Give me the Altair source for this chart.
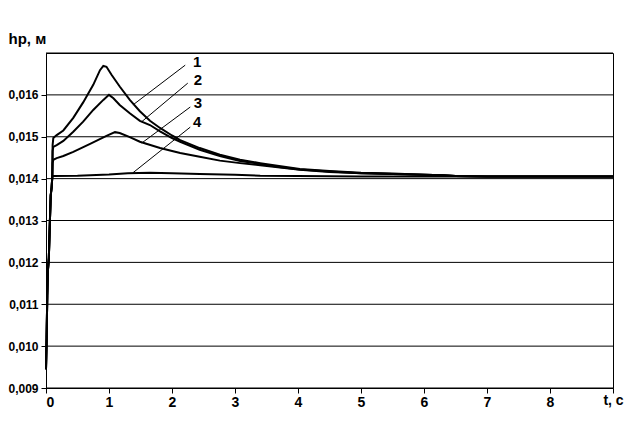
import altair as alt
import pandas as pd

# common initial rise (all curves)
t_rise = [0.0, 0.01, 0.02, 0.03, 0.045, 0.06, 0.075, 0.09, 0.1]
v_rise = [0.00945, 0.0102, 0.0112, 0.0118, 0.0121, 0.0129, 0.0136, 0.0138, 0.01405]

t1 = [0.105, 0.116, 0.17, 0.275, 0.433, 0.59, 0.75, 0.857, 0.91, 0.96, 1.04, 1.17, 1.33, 1.49, 1.65, 1.81,
      2.0, 2.13, 2.44, 2.76, 3.08, 3.4, 3.7, 4.03, 4.5, 5.0, 5.5, 6.0, 6.3, 6.5, 7.0, 8.0, 9.0]
v1 = [0.01480, 0.01497, 0.01504, 0.01515, 0.01545, 0.01582, 0.01624, 0.01659, 0.01669, 0.01667, 0.01648, 0.01620,
      0.01588, 0.01561, 0.01538, 0.01521, 0.01503, 0.01492, 0.01473, 0.01457, 0.01445, 0.01437, 0.01430,
      0.01423, 0.01418, 0.01414, 0.01412, 0.01409, 0.01408, 0.01406, 0.01405, 0.01405, 0.01405]

t2 = [0.105, 0.116, 0.17, 0.275, 0.433, 0.59, 0.75, 0.91, 1.0, 1.07, 1.17, 1.33, 1.49, 1.65, 1.81,
      2.0, 2.13, 2.44, 2.76, 3.08, 3.4, 3.7, 4.03, 4.5, 5.0, 5.5, 6.0, 6.3, 6.5, 7.0, 8.0, 9.0]
v2 = [0.01466, 0.01476, 0.01480, 0.01490, 0.01512, 0.01536, 0.01564, 0.01588, 0.01600, 0.01592, 0.01576, 0.01556,
      0.01538, 0.01528, 0.01513, 0.01497, 0.01488, 0.01469, 0.01454, 0.01442, 0.01435, 0.01428, 0.01422,
      0.01417, 0.01413, 0.01411, 0.01409, 0.01408, 0.01406, 0.01405, 0.01405, 0.01405]

t3 = [0.105, 0.116, 0.17, 0.275, 0.433, 0.70, 0.96, 1.095, 1.17, 1.33, 1.49, 1.81, 2.13, 2.44, 2.76,
      3.08, 3.4, 4.03, 4.5, 5.0, 5.5, 6.0, 6.3, 6.5, 7.0, 8.0, 9.0]
v3 = [0.01437, 0.01445, 0.01449, 0.01454, 0.01464, 0.01483, 0.01502, 0.01511, 0.01509, 0.01499, 0.01488, 0.01473,
      0.01461, 0.01452, 0.01443, 0.01437, 0.01432, 0.01421, 0.01416, 0.01413, 0.01411, 0.01409, 0.01408,
      0.01406, 0.01405, 0.01405, 0.01405]

t4 = [0.116, 0.5, 1.0, 1.3, 1.65, 2.0, 2.44, 3.0, 3.4, 4.0, 5.0, 7.0, 9.0]
v4 = [0.01406, 0.01407, 0.01410, 0.01413, 0.01414, 0.01413, 0.01411, 0.01409, 0.01407, 0.01406,
      0.01405, 0.01405, 0.01405]

series_names = ["1", "2", "3", "4"]
leader_t_start = [1.38, 1.52, 1.52, 1.38]
leader_v_start = [0.01576, 0.01536, 0.01485, 0.01414]
leader_t_end = [2.21, 2.25, 2.29, 2.29]
leader_v_end = [0.01671, 0.01628, 0.01571, 0.01523]
label_t = [2.40, 2.41, 2.41, 2.40]
label_v = [0.01678, 0.01636, 0.01581, 0.01535]

y_ticks = [0.009, 0.010, 0.011, 0.012, 0.013, 0.014, 0.015, 0.016]
y_grid = [0.009, 0.010, 0.011, 0.012, 0.013, 0.014, 0.015, 0.016, 0.017]
x_ticks = [0, 1, 2, 3, 4, 5, 6, 7, 8, 9]

rows = []
for name, ts, vs in zip(series_names, [t1, t2, t3, t4], [v1, v2, v3, v4]):
    allt = t_rise + ts
    allv = v_rise + vs
    for i, (t, v) in enumerate(zip(allt, allv)):
        rows.append({"series": name, "i": i, "t": t, "v": v})
df = pd.DataFrame(rows)

lead = pd.DataFrame({"series": series_names, "t": leader_t_start, "v": leader_v_start,
                     "t2": leader_t_end, "v2": leader_v_end})
labs = pd.DataFrame({"series": series_names, "t": label_t, "v": label_v})

FONT = "Liberation Sans"

xscale = alt.Scale(domain=[0, 9], nice=False, zero=False)
yscale = alt.Scale(domain=[0.009, 0.017], nice=False, zero=False)

xaxis = alt.Axis(values=x_ticks, grid=False, labelExpr="datum.value < 9 ? datum.value : ''",
                 tickSize=5, tickColor="black", domainColor="black", labelColor="black",
                 labelFont=FONT, labelFontWeight="bold", labelFontSize=14, labelPadding=2,
                 title="t, с", titleFont=FONT, titleFontWeight="bold", titleFontSize=14,
                 titleColor="black", titleX=567, titleY=12, titleAlign="center",
                 titleBaseline="middle", titleAngle=0)
yaxis = alt.Axis(values=y_ticks, grid=False,
                 labelExpr="replace(format(datum.value, '.3f'), '.', ',')",
                 tickSize=5, tickColor="black", domainColor="black", labelColor="black",
                 labelFont=FONT, labelFontWeight="bold", labelFontSize=12, labelPadding=3,
                 title="hр, м", titleFont=FONT, titleFontWeight="bold", titleFontSize=15,
                 titleColor="black", titleX=-38, titleY=-10, titleAlign="left",
                 titleBaseline="alphabetic", titleAngle=0)

grid = alt.Chart(pd.DataFrame({"g": y_grid})).mark_rule(color="black", strokeWidth=1).encode(
    y=alt.Y("g:Q", scale=yscale, axis=yaxis)
)

lines = alt.Chart(df).mark_line(color="black", strokeWidth=2, interpolate="linear").encode(
    x=alt.X("t:Q", scale=xscale, axis=xaxis),
    y=alt.Y("v:Q", scale=yscale),
    detail="series:N",
    order="i:Q",
)

leaders = alt.Chart(lead).mark_rule(color="black", strokeWidth=1).encode(
    x=alt.X("t:Q", scale=xscale), y=alt.Y("v:Q", scale=yscale), x2="t2:Q", y2="v2:Q"
)

texts = alt.Chart(labs).mark_text(font=FONT, fontWeight="bold", fontSize=15, color="black",
                                  align="center", baseline="middle").encode(
    x=alt.X("t:Q", scale=xscale), y=alt.Y("v:Q", scale=yscale), text="series:N"
)

chart = alt.layer(grid, lines, leaders, texts).properties(
    width=567, height=335,
    padding={"left": 38, "top": 45, "right": 15, "bottom": 33},
    autosize=alt.AutoSizeParams(type="none"),
    background="white",
).configure_view(stroke="black", strokeWidth=1)

chart.save("out.html", embed_options={"renderer": "svg", "actions": False})
